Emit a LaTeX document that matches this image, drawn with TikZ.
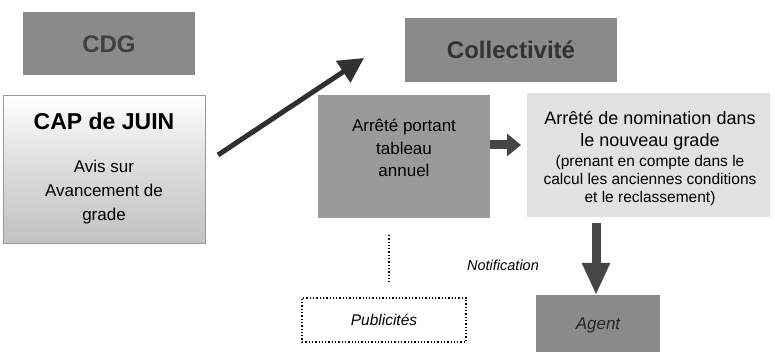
\documentclass[tikz,border=0pt]{standalone}
\usepackage{fontspec}
\setmainfont{Liberation Sans}
\usetikzlibrary{arrows.meta}
\definecolor{boxdark}{HTML}{8A8A8A}
\definecolor{boxmid}{HTML}{9A9A9A}
\definecolor{boxlight}{HTML}{E2E2E2}
\definecolor{arrowcol}{HTML}{303030}
\definecolor{txtgray}{HTML}{404040}
\begin{document}
\begin{tikzpicture}[x=1pt,y=-1pt,
  flatbox/.style={rectangle, draw=none, inner sep=0pt, align=center},
  bigarrow/.style={draw=arrowcol, line width=5pt, -{Triangle[length=25pt,width=25pt]}},
  blockarrow/.style={draw=arrowcol!90, line width=9pt, -{Triangle[length=#1]}},
  blockarrow/.default={14pt,width=22pt}
]
\useasboundingbox (0,0) rectangle (775,352);

% CDG
\node[flatbox, fill=boxdark, minimum width=172pt, minimum height=63pt,
      font=\fontsize{24pt}{28pt}\selectfont\bfseries, text=txtgray] (cdg) at (109,44) {CDG};

% CAP de JUIN
\node[flatbox, draw=gray!80, line width=0.8pt, top color=white, bottom color=black!24,
      middle color=white!86!black, minimum width=202pt, minimum height=148pt] (cap) at (104,169) {};
\node[flatbox, font=\fontsize{23pt}{27pt}\selectfont\bfseries] (capt) at (104,121) {CAP de JUIN};
\node[flatbox, font=\fontsize{17pt}{24pt}\selectfont] (capb) at (104,192) {Avis sur\\Avancement de\\grade};

% Collectivite
\node[flatbox, fill=boxdark, minimum width=212pt, minimum height=64pt,
      font=\fontsize{24pt}{28pt}\selectfont\bfseries, text=black!80] (col) at (511,50) {Collectivité};

% Arrete portant tableau annuel
\node[flatbox, fill=boxmid, minimum width=172pt, minimum height=123pt] (ap) at (404,156.5) {};
\node[flatbox, font=\fontsize{17pt}{22.5pt}\selectfont] (apt) at (404,148) {Arrêté portant\\tableau\\annuel};

% Arrete de nomination
\node[flatbox, fill=boxlight, minimum width=243pt, minimum height=124pt] (nom) at (648.5,155) {};
\node[flatbox, font=\fontsize{18pt}{22pt}\selectfont] (nomt) at (650,131) {Arrêté de nomination dans\\le nouveau grade};
\node[flatbox, font=\fontsize{15.5pt}{18pt}\selectfont] (nomb) at (650,180) {(prenant en compte dans le\\calcul les anciennes conditions\\et le reclassement)};

% Publicites
\node[flatbox, draw=black, dotted, line width=1.3pt, minimum width=164pt, minimum height=44pt,
      font=\fontsize{15.5pt}{18pt}\selectfont\itshape] (pub) at (384,320) {Publicités};

% Agent
\node[flatbox, fill=boxdark, minimum width=124pt, minimum height=60pt,
      font=\fontsize{17pt}{20pt}\selectfont\itshape, text=black!85] (agent) at (598,325) {Agent};

% Notification label
\node[flatbox, font=\fontsize{14.5pt}{18pt}\selectfont\itshape] (notif) at (503,265) {Notification};

% connectors
\coordinate (a1) at (218,155);
\coordinate (a2) at (364,58);
\draw[bigarrow] (a1) -- (a2);

\coordinate (s1) at (490,145);
\coordinate (s2) at (521,145);
\draw[blockarrow] (s1) -- (s2);

\coordinate (d1) at (596,223);
\coordinate (d2) at (596,295);
\draw[blockarrow={32pt,width=26pt}] (d1) -- (d2);

\coordinate (p1) at (389,235);
\coordinate (p2) at (389,282);
\draw[black, dotted, line width=1.3pt] (p1) -- (p2);
\end{tikzpicture}
\end{document}
